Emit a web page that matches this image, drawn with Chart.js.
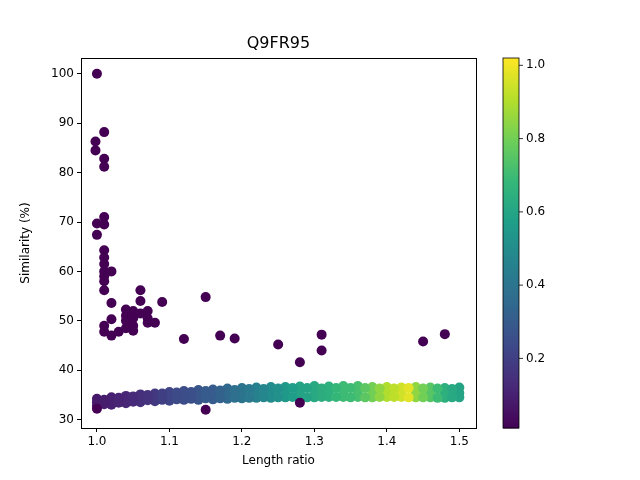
<!DOCTYPE html>
<html>
<head>
<meta charset="utf-8">
<script src="https://cdn.jsdelivr.net/npm/chart.js@4.4.0/dist/chart.umd.min.js"></script>
<style>body{margin:0;background:#fff}</style>
</head>
<body>
<canvas id="c" width="640" height="480"></canvas>
<script>
// 离群点（相似度高，颜色值约为0）
const outX = [1.0,0.998,0.998,1.01,1.01,1.01,1.0,1.0,1.01,1.01,1.01,1.01,1.01,1.01,1.01,1.01,1.01,1.02,1.02,1.01,1.01,1.02,1.02,1.03,1.04,1.04,1.04,1.04,1.05,1.05,1.05,1.05,1.06,1.06,1.06,1.07,1.07,1.07,1.08,1.09,1.12,1.15,1.17,1.19,1.25,1.28,1.31,1.31,1.45,1.48,1.15,1.0,1.28];
const outY = [100,86.3,84.5,88.2,82.8,81.2,69.7,67.4,71,69.5,64.3,62.8,61.5,60,59,58,56.2,60,53.6,49,47.8,50.3,47,47.8,52.3,51,50,48.5,52,50.5,49,48,56.2,54,51.5,52,50.5,49.6,49.6,53.8,46.3,54.8,47,46.4,45.2,41.6,47.2,44,45.8,47.3,32,32.2,33.4];

// 主带状区域（偶数点）
const bandX = [1.00,1.02,1.04,1.06,1.08,1.10,1.12,1.14,1.16,1.18,1.20,1.22,1.24,1.26,1.28,1.30,1.32,1.34,1.36,1.38,1.40,1.42,1.44,1.46,1.48,1.50];
const bandLow = [32.8,33.0,33.3,33.5,33.7,33.8,34.0,34.0,34.1,34.2,34.3,34.4,34.4,34.5,34.5,34.5,34.6,34.6,34.6,34.5,34.6,34.6,34.5,34.5,34.4,34.5];
const bandMid = [33.5,33.8,34.1,34.3,34.5,34.7,34.8,34.9,35.0,35.1,35.2,35.3,35.4,35.5,35.5,35.6,35.6,35.6,35.6,35.5,35.5,35.4,35.4,35.5,35.4,35.4];
const bandHigh = [34.2,34.5,34.8,35.1,35.3,35.6,35.8,36.0,36.1,36.3,36.4,36.5,36.6,36.6,36.7,36.8,36.7,36.8,36.8,36.6,36.6,36.5,36.6,36.5,36.4,36.5];
const bandC = [0.08,0.1,0.12,0.15,0.18,0.22,0.25,0.28,0.3,0.35,0.4,0.45,0.5,0.55,0.6,0.62,0.65,0.7,0.72,0.8,0.9,0.95,0.85,0.75,0.65,0.6];
// 主带状区域（奇数点）
const bandX2 = [1.01,1.03,1.05,1.07,1.09,1.11,1.13,1.15,1.17,1.19,1.21,1.23,1.25,1.27,1.29,1.31,1.33,1.35,1.37,1.39,1.41,1.43,1.45,1.47,1.49];
const bandLow2 = [33.1,33.4,33.6,33.9,34.0,34.1,34.2,34.3,34.3,34.4,34.4,34.5,34.5,34.6,34.5,34.6,34.6,34.5,34.5,34.6,34.6,34.5,34.5,34.4,34.5];
const bandHigh2 = [34.0,34.4,34.7,35.0,35.3,35.5,35.6,35.8,35.9,36.0,36.2,36.2,36.3,36.4,36.4,36.3,36.4,36.4,36.4,36.3,36.3,36.4,36.3,36.3,36.2];
const bandC2 = [0.09,0.11,0.13,0.16,0.2,0.24,0.26,0.3,0.33,0.38,0.42,0.48,0.52,0.57,0.6,0.64,0.68,0.7,0.76,0.85,0.92,0.98,0.8,0.7,0.62];

const xTicks = [1.0,1.1,1.2,1.3,1.4,1.5];
const yTicks = [30,40,50,60,70,80,90,100];
const cbTicks = [0.2,0.4,0.6,0.8,1.0];
const cMin = 0.01, cMax = 1.02;

// viridis 色图
const viridisStops = ['#440154','#482878','#3e4989','#31688e','#26828e','#1f9e89','#35b779','#6ece58','#b5de2b','#fde725'];
function hex(h){return [1,3,5].map(i=>parseInt(h.substr(i,2),16));}
function viridis(v){
    let t = Math.max(0, Math.min(1, (v - cMin) / (cMax - cMin))) * (viridisStops.length - 1);
    const i = Math.min(Math.floor(t), viridisStops.length - 2), f = t - i;
    const a = hex(viridisStops[i]), b = hex(viridisStops[i+1]);
    return 'rgb(' + a.map((x,k)=>Math.round(x + (b[k]-x)*f)).join(',') + ')';
}

const points = [], colors = [];
[bandLow, bandHigh, bandMid].forEach(row => {
    bandX.forEach((x, i) => { points.push({x: x, y: row[i]}); colors.push(viridis(bandC[i])); });
});
[bandLow2, bandHigh2].forEach(row => {
    bandX2.forEach((x, i) => { points.push({x: x, y: row[i]}); colors.push(viridis(bandC2[i])); });
});
outX.forEach((x, i) => { points.push({x: x, y: outY[i]}); colors.push(viridis(0)); });

const decor = {
    id: 'decor',
    afterDraw(chart) {
        const ctx = chart.ctx, a = chart.chartArea;
        ctx.save();
        ctx.strokeStyle = '#000';
        ctx.lineWidth = 1;
        ctx.strokeRect(a.left + 0.5, a.top + 0.5, a.right - a.left, a.bottom - a.top);
        ctx.fillStyle = '#000';
        ctx.font = '16px "DejaVu Sans"';
        ctx.textAlign = 'center';
        ctx.textBaseline = 'bottom';
        ctx.fillText('Q9FR95', (a.left + a.right) / 2, a.top - 6);
        ctx.font = '12px "DejaVu Sans"';
        ctx.textBaseline = 'top';
        ctx.fillText('Length ratio', (a.left + a.right) / 2, a.bottom + 27);
        ctx.save();
        ctx.translate(26, (a.top + a.bottom) / 2);
        ctx.rotate(-Math.PI / 2);
        ctx.textBaseline = 'middle';
        ctx.fillText('Similarity (%)', 0, 0);
        ctx.restore();
        // 色条
        const x0 = 503, w = 16, top = a.top, bot = a.bottom;
        for (let y = top; y < bot; y++) {
            const v = cMin + (bot - y) / (bot - top) * (cMax - cMin);
            ctx.fillStyle = viridis(v);
            ctx.fillRect(x0, y, w, 1.5);
        }
        ctx.lineWidth = 0.8;
        ctx.strokeRect(x0, top, w, bot - top);
        ctx.textAlign = 'left';
        ctx.textBaseline = 'middle';
        cbTicks.forEach(t => {
            const y = bot - (t - cMin) / (cMax - cMin) * (bot - top);
            ctx.beginPath(); ctx.moveTo(x0 + w, y); ctx.lineTo(x0 + w + 4, y); ctx.stroke();
            ctx.fillStyle = '#000';
            ctx.fillText(t.toFixed(1), x0 + w + 7, y);
        });
        ctx.restore();
    }
};

new Chart(document.getElementById('c'), {
    type: 'scatter',
    data: { datasets: [{ data: points, backgroundColor: colors, borderWidth: 0, pointRadius: 5, pointHoverRadius: 5 }] },
    options: {
        responsive: false,
        animation: false,
        layout: { padding: { top: 58, right: 164, left: 0, bottom: 0 } },
        plugins: { legend: { display: false }, tooltip: { enabled: false } },
        scales: {
            x: {
                type: 'linear', min: 0.978, max: 1.523,
                afterBuildTicks: s => { s.ticks = xTicks.map(v => ({value: v})); },
                afterFit: s => { s.height = 52; },
                grid: { drawOnChartArea: false, tickLength: 4, color: '#000' },
                border: { color: '#000' },
                ticks: { color: '#000', font: { size: 12, family: 'DejaVu Sans' }, callback: v => v.toFixed(1) }
            },
            y: {
                min: 28.3, max: 103.2,
                afterBuildTicks: s => { s.ticks = yTicks.map(v => ({value: v})); },
                afterFit: s => { s.width = 81; },
                grid: { drawOnChartArea: false, tickLength: 4, color: '#000' },
                border: { color: '#000' },
                ticks: { color: '#000', font: { size: 12, family: 'DejaVu Sans' } }
            }
        }
    },
    plugins: [decor]
});
</script>
</body>
</html>
